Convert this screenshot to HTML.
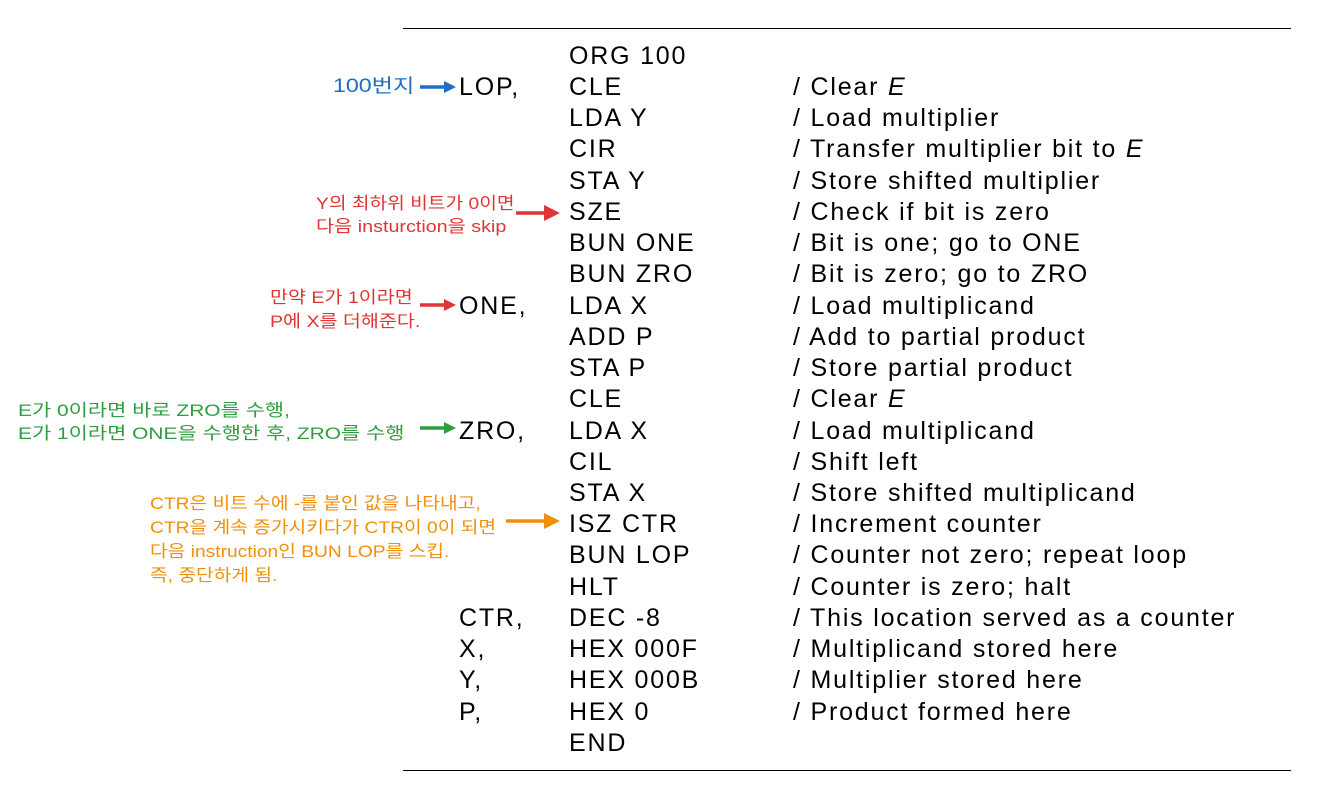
<!DOCTYPE html>
<html><head><meta charset="utf-8"><style>
body{margin:0;width:1317px;height:799px;background:#fff;position:relative;overflow:hidden;font-family:"Liberation Sans","Noto Sans CJK KR",sans-serif}
.r{position:absolute;font-size:25px;letter-spacing:1.8px;color:#000;line-height:30px;white-space:nowrap}
.a{position:absolute;font-size:17px;line-height:23px;white-space:nowrap;transform-origin:0 50%;font-family:"Liberation Sans","Noto Sans CJK KR",sans-serif}
.hr{position:absolute;left:403px;width:888px;height:0;border-top:1.5px solid #000}
</style></head><body>
<div class="hr" style="top:28px"></div>
<div class="hr" style="top:770px"></div>
<div class="r" style="left:569px;top:41px">ORG 100</div>
<div class="r" style="left:459px;top:72px">LOP,</div><div class="r" style="left:569px;top:72px">CLE</div><div class="r" style="left:793px;top:72px">/ Clear <i>E</i></div>
<div class="r" style="left:569px;top:103px">LDA Y</div><div class="r" style="left:793px;top:103px">/ Load multiplier</div>
<div class="r" style="left:569px;top:134px">CIR</div><div class="r" style="left:793px;top:134px">/ Transfer multiplier bit to <i>E</i></div>
<div class="r" style="left:569px;top:166px">STA Y</div><div class="r" style="left:793px;top:166px">/ Store shifted multiplier</div>
<div class="r" style="left:569px;top:197px">SZE</div><div class="r" style="left:793px;top:197px">/ Check if bit is zero</div>
<div class="r" style="left:569px;top:228px">BUN ONE</div><div class="r" style="left:793px;top:228px">/ Bit is one; go to ONE</div>
<div class="r" style="left:569px;top:259px">BUN ZRO</div><div class="r" style="left:793px;top:259px">/ Bit is zero; go to ZRO</div>
<div class="r" style="left:459px;top:291px">ONE,</div><div class="r" style="left:569px;top:291px">LDA X</div><div class="r" style="left:793px;top:291px">/ Load multiplicand</div>
<div class="r" style="left:569px;top:322px">ADD P</div><div class="r" style="left:793px;top:322px">/ Add to partial product</div>
<div class="r" style="left:569px;top:353px">STA P</div><div class="r" style="left:793px;top:353px">/ Store partial product</div>
<div class="r" style="left:569px;top:384px">CLE</div><div class="r" style="left:793px;top:384px">/ Clear <i>E</i></div>
<div class="r" style="left:459px;top:416px">ZRO,</div><div class="r" style="left:569px;top:416px">LDA X</div><div class="r" style="left:793px;top:416px">/ Load multiplicand</div>
<div class="r" style="left:569px;top:447px">CIL</div><div class="r" style="left:793px;top:447px">/ Shift left</div>
<div class="r" style="left:569px;top:478px">STA X</div><div class="r" style="left:793px;top:478px">/ Store shifted multiplicand</div>
<div class="r" style="left:569px;top:509px">ISZ CTR</div><div class="r" style="left:793px;top:509px">/ Increment counter</div>
<div class="r" style="left:569px;top:540px">BUN LOP</div><div class="r" style="left:793px;top:540px">/ Counter not zero; repeat loop</div>
<div class="r" style="left:569px;top:572px">HLT</div><div class="r" style="left:793px;top:572px">/ Counter is zero; halt</div>
<div class="r" style="left:459px;top:603px">CTR,</div><div class="r" style="left:569px;top:603px">DEC -8</div><div class="r" style="left:793px;top:603px">/ This location served as a counter</div>
<div class="r" style="left:459px;top:634px">X,</div><div class="r" style="left:569px;top:634px">HEX 000F</div><div class="r" style="left:793px;top:634px">/ Multiplicand stored here</div>
<div class="r" style="left:459px;top:665px">Y,</div><div class="r" style="left:569px;top:665px">HEX 000B</div><div class="r" style="left:793px;top:665px">/ Multiplier stored here</div>
<div class="r" style="left:459px;top:697px">P,</div><div class="r" style="left:569px;top:697px">HEX 0</div><div class="r" style="left:793px;top:697px">/ Product formed here</div>
<div class="r" style="left:569px;top:728px">END</div>

<div class="a" style="left:333px;top:75px;color:#1f6fc0;font-size:19px;transform:scaleX(1.22)">100번지</div>
<div class="a" style="left:316px;top:192px;color:#e03535;transform:scaleX(1.13)">Y의 최하위 비트가 0이면</div>
<div class="a" style="left:316px;top:215px;color:#e03535;transform:scaleX(1.16)">다음 insturction을 skip</div>
<div class="a" style="left:270px;top:286px;color:#e03535;transform:scaleX(1.15)">만약 E가 1이라면</div>
<div class="a" style="left:270px;top:310px;color:#e03535;transform:scaleX(1.15)">P에 X를 더해준다.</div>
<div class="a" style="left:18px;top:399px;color:#2e9e3e;transform:scaleX(1.23)">E가 0이라면 바로 ZRO를 수행,</div>
<div class="a" style="left:18px;top:422px;color:#2e9e3e;transform:scaleX(1.23)">E가 1이라면 ONE을 수행한 후, ZRO를 수행</div>
<div class="a" style="left:150px;top:492px;color:#f0900a;transform:scaleX(1.13)">CTR은 비트 수에 -를 붙인 값을 나타내고,</div>
<div class="a" style="left:150px;top:516px;color:#f0900a;transform:scaleX(1.13)">CTR을 계속 증가시키다가 CTR이 0이 되면</div>
<div class="a" style="left:150px;top:540px;color:#f0900a;transform:scaleX(1.13)">다음 instruction인 BUN LOP를 스킵.</div>
<div class="a" style="left:150px;top:564px;color:#f0900a;transform:scaleX(1.13)">즉, 중단하게 됨.</div>

<svg width="1317" height="799" style="position:absolute;left:0;top:0">
<g stroke-width="3.5" fill="none">
<line x1="420" y1="87" x2="446" y2="87" stroke="#1f6fc0"/>
<line x1="516" y1="213" x2="548" y2="213" stroke="#e03535"/>
<line x1="420" y1="305" x2="446" y2="305" stroke="#e03535"/>
<line x1="420" y1="428" x2="446" y2="428" stroke="#2e9e3e"/>
<line x1="506" y1="521" x2="548" y2="521" stroke="#f0900a"/>
</g>
<polygon points="444,81 456,87 444,93" fill="#1f6fc0"/>
<polygon points="544,205 560,213 544,221" fill="#e03535"/>
<polygon points="444,299 456,305 444,311" fill="#e03535"/>
<polygon points="444,422 456,428 444,434" fill="#2e9e3e"/>
<polygon points="544,513 560,521 544,529" fill="#f0900a"/>
</svg>
</body></html>
